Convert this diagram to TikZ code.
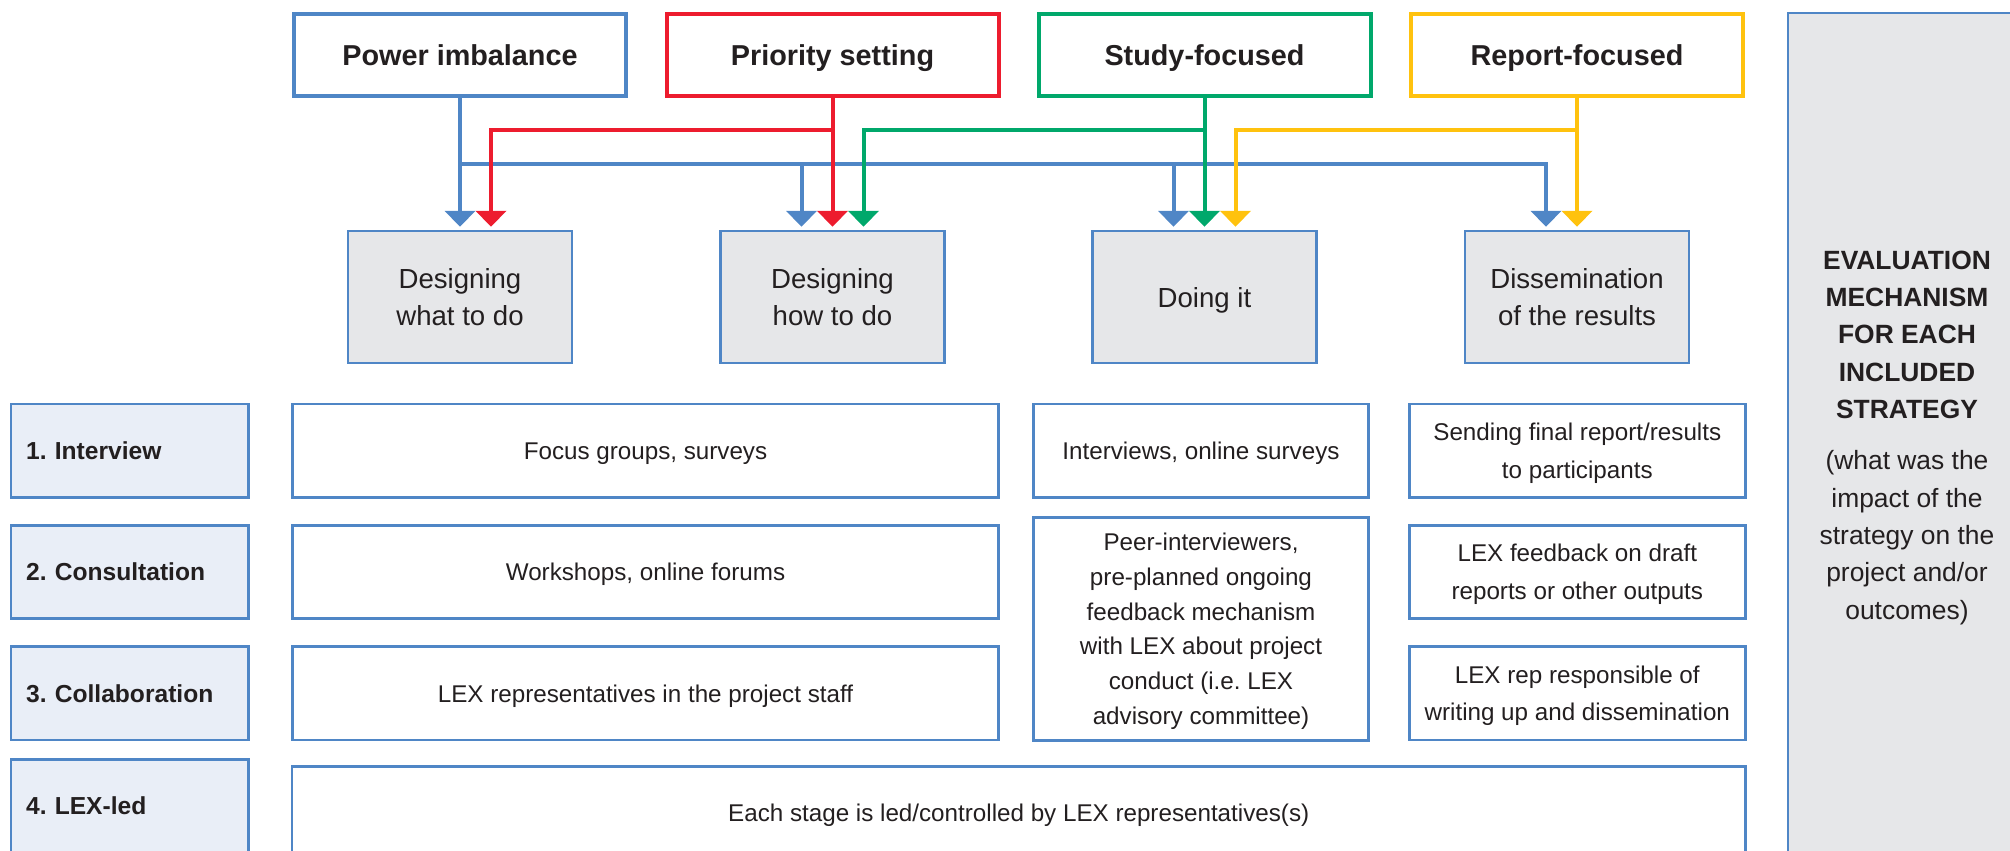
\documentclass[tikz,border=0pt]{standalone}
\usepackage{fontspec}
\setmainfont{Liberation Sans}
\usetikzlibrary{arrows.meta}
\definecolor{cblue}{RGB}{79,134,198}
\definecolor{cred}{RGB}{237,28,46}
\definecolor{cgreen}{RGB}{0,168,107}
\definecolor{cyellow}{RGB}{255,194,14}
\definecolor{labfill}{RGB}{233,238,247}
\definecolor{grayfill}{RGB}{230,231,233}
\definecolor{txt}{RGB}{35,31,32}
\frenchspacing
\begin{document}
\begin{tikzpicture}[x=0.5pt,y=-0.5pt,
  every node/.style={text=txt, inner sep=0pt, text depth=0pt},
  hdr/.style={draw, line width=2pt, fill=white, minimum width=166pt, minimum height=41.3pt,
    font=\fontsize{14.4}{17}\selectfont\bfseries},
  stagebox/.style={draw=cblue, line width=1.2pt, fill=grayfill, minimum width=112pt, minimum height=66pt,
    align=center, font=\fontsize{13.8}{18.5}\selectfont},
  labbox/.style={draw=cblue, line width=1.3pt, fill=labfill, minimum width=118.9pt, minimum height=46.6pt,
    text width=103.7pt, inner xsep=7.6pt, align=left, font=\fontsize{12.3}{15}\selectfont\bfseries},
  cbox/.style={draw=cblue, line width=1.3pt, fill=white, minimum height=46.6pt,
    align=center, font=\fontsize{12.1}{18.8}\selectfont},
  evalbox/.style={draw=cblue, line width=1.3pt, fill=grayfill, minimum width=119pt, minimum height=423.5pt},
  evaltxt/.style={align=center, font=\fontsize{13.2}{18.65}\selectfont},
  con/.style={line width=2pt},
  conarrow/.style={con, -{Triangle[width=15pt,length=8pt]}, shorten >=1.5pt},
]
\useasboundingbox (0,0) rectangle (2010,851);

% evaluation column
\node[evalbox] (eval) at (1907,436.5) {};
\node[evaltxt] (evaltext) at (1907,435) {\textbf{EVALUATION}\\\textbf{MECHANISM}\\\textbf{FOR EACH}\\\textbf{INCLUDED}\\\textbf{STRATEGY}\\[7pt](what was the\\impact of the\\strategy on the\\project and/or\\outcomes)};

% header boxes
\node[hdr, draw=cblue] (pw) at (460,55) {Power imbalance};
\node[hdr, draw=cred] (pr) at (832.5,55) {Priority setting};
\node[hdr, draw=cgreen] (st) at (1204.5,55) {Study-focused};
\node[hdr, draw=cyellow] (rp) at (1577,55) {Report-focused};

% stage boxes
\node[stagebox] (dwhat) at (460,297) {Designing\\what to do};
\node[stagebox] (dhow) at (832.5,297) {Designing\\how to do};
\node[stagebox] (doing) at (1204.5,297) {Doing it};
\node[stagebox] (diss) at (1577,297) {Dissemination\\of the results};

% arrow targets
\coordinate (t1r) at ([xshift=15.5pt]dwhat.north);
\coordinate (t2b) at ([xshift=-15.5pt]dhow.north);
\coordinate (t2g) at ([xshift=15.5pt]dhow.north);
\coordinate (t3b) at ([xshift=-15.5pt]doing.north);
\coordinate (t3y) at ([xshift=15.5pt]doing.north);
\coordinate (t4b) at ([xshift=-15.5pt]diss.north);
\coordinate (bj) at (460,164);
\coordinate (hy) at (0,130);

% blue connectors
\draw[conarrow, cblue] (pw.south) -- (dwhat.north);
\draw[conarrow, cblue] (bj) -| (t4b);
\draw[conarrow, cblue] (t2b |- bj) -- (t2b);
\draw[conarrow, cblue] (t3b |- bj) -- (t3b);
% red connectors
\draw[conarrow, cred] (pr.south) -- (dhow.north);
\draw[conarrow, cred] (pr.south |- hy) -| (t1r);
% green connectors
\draw[conarrow, cgreen] (st.south) -- (doing.north);
\draw[conarrow, cgreen] (st.south |- hy) -| (t2g);
% yellow connectors
\draw[conarrow, cyellow] (rp.south) -- (diss.north);
\draw[conarrow, cyellow] (rp.south |- hy) -| (t3y);

% row labels
\node[labbox] (r1) at (129.8,450.7) {1. Interview};
\node[labbox] (r2) at (129.8,572) {2. Consultation};
\node[labbox] (r3) at (129.8,693.3) {3. Collaboration};
\node[labbox] (r4) at (129.8,806) {4. LEX-led};

% content boxes
\node[cbox, minimum width=353.1pt] (c11) at (645.5,450.7) {Focus groups, surveys};
\node[cbox, minimum width=353.1pt] (c21) at (645.5,572) {Workshops, online forums};
\node[cbox, minimum width=353.1pt] (c31) at (645.5,693.3) {LEX representatives in the project staff};
\node[cbox, minimum width=167.6pt] (c12) at (1201,450.7) {Interviews, online surveys};
\node[cbox, minimum width=167.6pt, minimum height=111.5pt, font=\fontsize{12.1}{17.35}\selectfont] (c23) at (1201,628.8)
  {Peer-interviewers,\\pre-planned ongoing\\feedback mechanism\\with LEX about project\\conduct (i.e. LEX\\advisory committee)};
\node[cbox, minimum width=168pt] (c13) at (1577.3,450.7) {Sending final report/results\\to participants};
\node[cbox, minimum width=168pt] (c22) at (1577.3,572) {LEX feedback on draft\\reports or other outputs};
\node[cbox, minimum width=168pt] (c33) at (1577.3,693.3) {LEX rep responsible of\\writing up and dissemination};
\node[cbox, minimum width=726.6pt] (c4) at (1018.7,813) {Each stage is led/controlled by LEX representatives(s)};
\end{tikzpicture}
\end{document}
